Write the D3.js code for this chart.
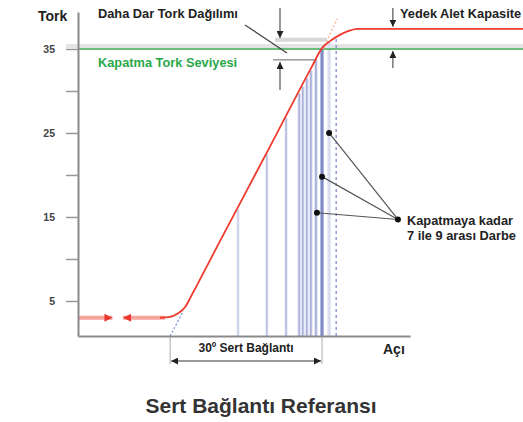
<!DOCTYPE html>
<html>
<head>
<meta charset="utf-8">
<script src="https://cdn.jsdelivr.net/npm/d3@7"></script>
<style>
  body { margin: 0; background: #fff; }
  svg { display: block; font-family: "Liberation Sans", Arial, sans-serif; }
</style>
</head>
<body>
<script>
// torque curve (angle in degrees, torque)
var curveAngles = [-2, 0, 1.5, 3, 4, 10, 20, 28, 30, 31.5, 33, 35, 37, 70];
var curveTorque = [3.0, 3.1, 3.5, 4.3, 5.4, 12.3, 23.7, 32.9, 35.1, 35.9, 36.5, 37.1, 37.4, 37.4];

// flat free-run part drawn thick, in two pieces
var freeRunAngles = [[-18.2, -11.4], [-9.3, -1]];
var freeRunTorque = 3.0;

// impulses
var impulseAngles = [13.4, 19.1, 22.9, 25.5, 26.2, 27.0, 27.8, 28.8, 30.0, 31.4];
var impulseTorque = [15.9, 22.5, 26.8, 29.7, 30.5, 31.5, 32.4, 33.6, 35.0, 35.9];

var shutoffTorque = 35;
var toolCapacity = 37.4;
var majorTicks = [5, 15, 25, 35];
var allTicks = [5, 10, 15, 20, 25, 30, 35];

var width = 523, height = 422;

var x = d3.scaleLinear().domain([-18.2, 69.7]).range([78, 523]);
var y = d3.scaleLinear().domain([0.83, 39.4]).range([336, 12]);

var svg = d3.select("body").append("svg")
    .attr("width", width)
    .attr("height", height);

// arrow markers
var defs = svg.append("defs");
function marker(id, color, w, h) {
  defs.append("marker")
      .attr("id", id)
      .attr("viewBox", "0 0 10 10")
      .attr("refX", 10).attr("refY", 5)
      .attr("markerWidth", w).attr("markerHeight", h)
      .attr("markerUnits", "userSpaceOnUse")
      .attr("orient", "auto")
    .append("path")
      .attr("d", "M0,0 L10,5 L0,10 Z")
      .attr("fill", color);
}
marker("arrDark", "#222", 7, 7);
marker("arrRed", "#e8382f", 10, 8);

// shadow under green line
svg.append("line")
    .attr("x1", 66).attr("x2", width)
    .attr("y1", y(shutoffTorque) - 3).attr("y2", y(shutoffTorque) - 3)
    .attr("stroke", "#e4e4e4").attr("stroke-width", 4);

// impulses (halo + line)
var imp = svg.append("g");
imp.selectAll("line.halo")
    .data(impulseAngles)
  .enter().append("line")
    .attr("class", "halo")
    .attr("x1", function(d) { return x(d); })
    .attr("x2", function(d) { return x(d); })
    .attr("y1", y(0.83))
    .attr("y2", function(d, i) { return y(impulseTorque[i]); })
    .attr("stroke", "#e6e8f4")
    .attr("stroke-width", function(d, i) { return i >= 3 ? 4 : 3; });

var shade = d3.scaleLinear().domain([13, 29]).range(["#cdd2ec", "#9aa4d8"]);
imp.selectAll("line.imp")
    .data(impulseAngles)
  .enter().append("line")
    .attr("class", "imp")
    .attr("x1", function(d) { return x(d); })
    .attr("x2", function(d) { return x(d); })
    .attr("y1", y(0.83))
    .attr("y2", function(d, i) { return y(impulseTorque[i]); })
    .attr("stroke", function(d, i) {
      if (i == impulseAngles.length - 1) return "#d5d9ef";
      if (i == impulseAngles.length - 2) return "#7f8bc8";
      return shade(d);
    })
    .attr("stroke-width", function(d, i) { return i == impulseAngles.length - 2 ? 3 : 1.5; });

// dashed limit line
svg.append("line")
    .attr("x1", x(32.8)).attr("x2", x(32.8))
    .attr("y1", y(0.83)).attr("y2", y(36.4))
    .attr("stroke", "#8f9ad8").attr("stroke-width", 1.5)
    .attr("stroke-dasharray", "3,3");

// narrow distribution bars
svg.append("line")
    .attr("x1", 275).attr("x2", 327)
    .attr("y1", y(36.1)).attr("y2", y(36.1))
    .attr("stroke", "#d8d8d8").attr("stroke-width", 4);
svg.append("line")
    .attr("x1", 273).attr("x2", 317)
    .attr("y1", y(33.7)).attr("y2", y(33.7))
    .attr("stroke", "#666").attr("stroke-width", 1);

// green shutoff line
svg.append("line")
    .attr("x1", 78).attr("x2", width)
    .attr("y1", y(shutoffTorque)).attr("y2", y(shutoffTorque))
    .attr("stroke", "#3aa94f").attr("stroke-width", 1.5);

// extrapolations
svg.append("line")
    .attr("x1", x(0)).attr("y1", y(0.83))
    .attr("x2", x(2.6)).attr("y2", y(3.8))
    .attr("stroke", "#7b8ad6").attr("stroke-width", 1.2)
    .attr("stroke-dasharray", "2,2");
svg.append("line")
    .attr("x1", x(30.2)).attr("y1", y(35))
    .attr("x2", x(33)).attr("y2", y(38.6))
    .attr("stroke", "#f5b08a").attr("stroke-width", 1.2)
    .attr("stroke-dasharray", "2,2");

// free run thick part
svg.selectAll("line.free")
    .data(freeRunAngles)
  .enter().append("line")
    .attr("class", "free")
    .attr("x1", function(d) { return x(d[0]); })
    .attr("x2", function(d) { return x(d[1]); })
    .attr("y1", y(freeRunTorque)).attr("y2", y(freeRunTorque))
    .attr("stroke", "#f5a49e").attr("stroke-width", 4);
svg.append("line")
    .attr("x1", x(-14)).attr("x2", x(-11.4))
    .attr("y1", y(freeRunTorque)).attr("y2", y(freeRunTorque))
    .attr("stroke", "none")
    .attr("marker-end", "url(#arrRed)");
svg.append("line")
    .attr("x1", x(-7)).attr("x2", x(-9.3))
    .attr("y1", y(freeRunTorque)).attr("y2", y(freeRunTorque))
    .attr("stroke", "none")
    .attr("marker-end", "url(#arrRed)");

// torque curve
var pts = curveAngles.map(function(a, i) { return [a, curveTorque[i]]; });
var line = d3.line()
    .x(function(d) { return x(d[0]); })
    .y(function(d) { return y(d[1]); })
    .curve(d3.curveMonotoneX);
svg.append("path")
    .datum(pts)
    .attr("d", line)
    .attr("fill", "none")
    .attr("stroke", "#ee3b2f")
    .attr("stroke-width", 1.8);

// axes
var yAxis = d3.axisLeft(y)
    .tickValues(allTicks)
    .tickSize(12)
    .tickSizeOuter(0)
    .tickPadding(11)
    .tickFormat(function(d) { return majorTicks.indexOf(d) >= 0 ? d : ""; });
var gy = svg.append("g").attr("transform", "translate(78,0)").call(yAxis);
gy.select(".domain").attr("stroke", "#8a8a8a").attr("stroke-width", 2);
gy.selectAll(".tick line").attr("stroke", "#999").attr("stroke-width", 1.5);
gy.selectAll(".tick text")
    .attr("fill", "#444")
    .style("font-size", "10.5px")
    .style("font-weight", "bold")
    .style("font-family", "Liberation Sans, Arial, sans-serif");

var xAxisScale = x.copy().domain([-18.2, 47.4]).range([x(-18.2), x(47.4)]);
var gx = svg.append("g").attr("transform", "translate(0,336)")
    .call(d3.axisBottom(xAxisScale).tickValues([]).tickSizeOuter(0));
gx.select(".domain").attr("stroke", "#8a8a8a").attr("stroke-width", 2);

// 30 degree bracket
[0, 30].forEach(function(a) {
  svg.append("line")
      .attr("x1", x(a)).attr("x2", x(a))
      .attr("y1", 337).attr("y2", 364)
      .attr("stroke", "#aaa").attr("stroke-width", 1);
});
svg.append("line")
    .attr("x1", x(15)).attr("x2", x(0) + 1)
    .attr("y1", 361).attr("y2", 361)
    .attr("stroke", "#333").attr("stroke-width", 1)
    .attr("marker-end", "url(#arrDark)");
svg.append("line")
    .attr("x1", x(15)).attr("x2", x(30) - 1)
    .attr("y1", 361).attr("y2", 361)
    .attr("stroke", "#333").attr("stroke-width", 1)
    .attr("marker-end", "url(#arrDark)");

// annotation arrows
function arrow(x0, y0, x1, y1) {
  svg.append("line")
      .attr("x1", x0).attr("y1", y0)
      .attr("x2", x1).attr("y2", y1)
      .attr("stroke", "#333").attr("stroke-width", 1)
      .attr("marker-end", "url(#arrDark)");
}
arrow(280, 8, 280, 38);
arrow(280, 90, 280, 62);
arrow(x(44), 8, x(44), y(toolCapacity) - 2);
arrow(x(44), 68, x(44), y(shutoffTorque) + 2);

// leader for narrow distribution
svg.append("line")
    .attr("x1", 245).attr("y1", 25)
    .attr("x2", 287).attr("y2", 53)
    .attr("stroke", "#444").attr("stroke-width", 1.2);

// impulse callouts
var calloutAngles = [31.4, 30.0, 29.0];
var calloutTorque = [25, 19.8, 15.5];
var target = [45.0, 14.7];
svg.selectAll("line.callout")
    .data(calloutAngles)
  .enter().append("line")
    .attr("class", "callout")
    .attr("x1", function(d) { return x(d); })
    .attr("y1", function(d, i) { return y(calloutTorque[i]); })
    .attr("x2", x(target[0])).attr("y2", y(target[1]))
    .attr("stroke", "#555").attr("stroke-width", 1.2);
svg.selectAll("circle.callout")
    .data(calloutAngles.concat([target[0]]))
  .enter().append("circle")
    .attr("class", "callout")
    .attr("cx", function(d) { return x(d); })
    .attr("cy", function(d, i) { return y(i < 3 ? calloutTorque[i] : target[1]); })
    .attr("r", 3)
    .attr("fill", "#111");

// texts
function label(t, tx, ty, size, color, weight, anchor) {
  svg.append("text")
      .attr("x", tx).attr("y", ty)
      .attr("text-anchor", anchor || "start")
      .style("font-size", size + "px")
      .style("font-weight", weight || "bold")
      .attr("fill", color)
      .text(t);
}
label("Tork", 38, 21, 14, "#222");
label("Daha Dar Tork Dağılımı", 98, 18, 12.8, "#222");
label("Yedek Alet Kapasite", 400, 18, 12.8, "#222");
label("Kapatma Tork Seviyesi", 98, 67, 12.8, "#2aa84a");
label("Kapatmaya kadar", 407, 225, 12.8, "#222");
label("7 ile 9 arası Darbe", 407, 240, 12.8, "#222");
label("30º Sert Bağlantı", x(15), 352, 12, "#222", "bold", "middle");
label("Açı", 383, 354, 14, "#222");
label("Sert Bağlantı Referansı", 261, 413, 21, "#333", "bold", "middle");
</script>
</body>
</html>
